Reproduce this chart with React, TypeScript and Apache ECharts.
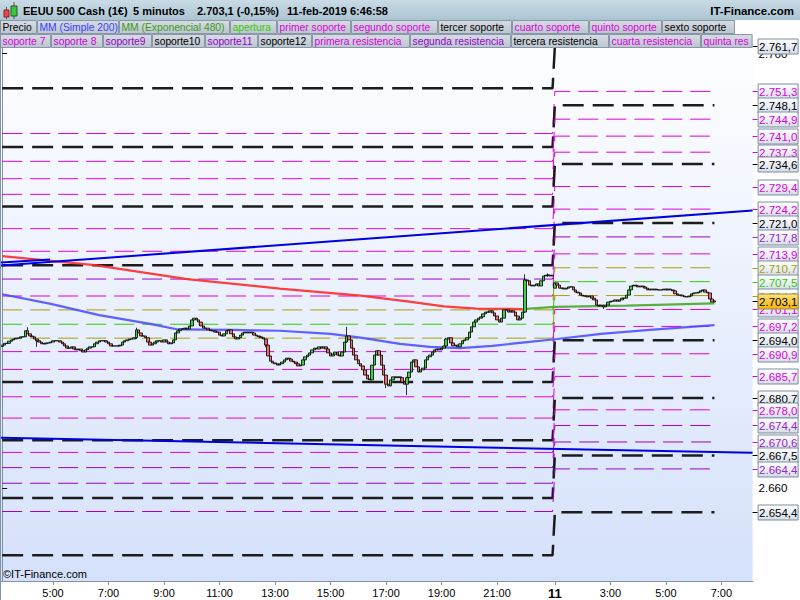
import React, { useEffect, useRef } from "react";
import * as echarts from "echarts";

// ---------------- data ----------------
// Friday 03:10 .. 23:00 (239 bars), Monday 11 01:00 .. 08:05 (86 slots, bars until 06:45)
const FRIDAY_BARS = 239;
const MONDAY_SLOTS = 86;
const fridayTicks = ["5:00", "7:00", "9:00", "11:00", "13:00", "15:00", "17:00", "19:00", "21:00"];
const mondayTicks = ["3:00", "5:00", "7:00"];
const mondayFirst = "1:00";
const dayLabel = "11";

const firstOpen = 2692.6;
const mondayOpen = 2706.0;
const closes = [
  2692.9, 2693.3, 2693.3, 2693.8, 2694.1, 2694.3, 2694.5, 2694.5, 2694.8, 2694.8, // 0
  2696.2, 2695.5, 2695.0, 2694.8, 2694.3, 2693.9, 2693.6, 2693.2, 2693.2, 2693.4, // 10
  2693.4, 2693.6, 2693.9, 2693.9, 2693.9, 2693.6, 2693.2, 2692.7, 2692.2, 2692.2, // 20
  2692.5, 2692.0, 2691.8, 2692.0, 2691.6, 2691.3, 2691.8, 2692.2, 2692.5, 2692.5, // 30
  2693.2, 2693.6, 2693.9, 2693.9, 2693.9, 2693.6, 2693.2, 2692.7, 2692.7, 2692.7, // 40
  2692.7, 2692.9, 2693.6, 2693.9, 2694.1, 2694.3, 2694.3, 2694.6, 2696.4, 2695.7, // 50
  2695.0, 2695.0, 2694.6, 2693.6, 2692.9, 2693.2, 2693.6, 2693.9, 2693.9, 2693.6, // 60
  2694.1, 2693.6, 2693.2, 2693.4, 2694.1, 2695.7, 2696.2, 2696.6, 2696.6, 2696.8, // 70
  2696.6, 2697.3, 2698.7, 2699.1, 2698.7, 2698.2, 2697.3, 2696.8, 2696.8, 2696.4, // 80
  2696.2, 2696.2, 2695.9, 2695.9, 2695.2, 2695.0, 2695.5, 2696.2, 2696.4, 2695.5, // 90
  2694.8, 2694.3, 2694.6, 2695.2, 2695.7, 2695.9, 2695.7, 2695.9, 2695.7, 2695.2, // 100
  2695.0, 2694.8, 2694.6, 2694.3, 2692.9, 2690.4, 2689.2, 2688.8, 2688.6, 2688.3, // 110
  2688.6, 2689.0, 2689.5, 2689.9, 2689.7, 2689.2, 2689.0, 2688.6, 2688.1, 2688.3, // 120
  2689.5, 2690.2, 2690.6, 2691.1, 2691.8, 2692.2, 2692.0, 2692.5, 2692.2, 2692.5, // 130
  2692.0, 2691.1, 2690.4, 2690.8, 2691.3, 2690.6, 2690.4, 2691.3, 2693.6, 2695.0, // 140
  2694.1, 2692.2, 2690.6, 2689.5, 2688.6, 2688.1, 2687.2, 2686.0, 2685.1, 2684.9, // 150
  2688.3, 2690.6, 2691.6, 2690.6, 2688.3, 2686.0, 2683.9, 2683.5, 2684.9, 2685.6, // 160
  2685.4, 2685.6, 2685.4, 2684.4, 2683.9, 2685.4, 2686.7, 2689.0, 2689.5, 2687.9, // 170
  2686.7, 2687.2, 2687.6, 2689.5, 2690.2, 2690.6, 2691.3, 2691.8, 2692.0, 2691.8, // 180
  2692.2, 2692.7, 2694.3, 2694.6, 2693.4, 2692.7, 2692.9, 2692.5, 2693.2, 2693.9, // 190
  2694.1, 2694.6, 2695.9, 2697.1, 2698.2, 2698.7, 2699.1, 2699.4, 2700.1, 2700.5, // 200
  2700.5, 2700.8, 2700.3, 2699.6, 2698.7, 2698.2, 2699.1, 2701.0, 2701.0, 2700.5, // 210
  2700.8, 2700.5, 2699.6, 2698.7, 2699.1, 2700.5, 2707.9, 2707.7, 2706.7, 2706.5, // 220
  2706.7, 2707.0, 2706.5, 2707.7, 2708.8, 2709.0, 2709.0, 2708.8, 2709.0, // 230..238
  2707.2, 2706.7, 2706.0, 2706.0, 2705.8, 2706.0, 2706.3, 2706.3, 2705.6, 2705.1, 2704.9, // 239..249
  2704.4, 2704.2, 2704.2, 2704.0, 2704.2, 2703.7, 2703.3, 2702.1, 2701.9, 2702.1, // 250
  2701.7, 2702.1, 2702.8, 2703.0, 2703.0, 2703.3, 2703.0, 2703.3, 2703.7, 2703.7, // 260
  2704.4, 2705.6, 2706.5, 2706.7, 2706.5, 2706.3, 2706.5, 2706.3, 2706.0, 2705.6, // 270
  2705.8, 2705.6, 2705.8, 2705.6, 2705.6, 2705.6, 2705.8, 2705.6, 2705.8, 2705.6, // 280
  2705.4, 2704.7, 2704.4, 2704.4, 2704.2, 2704.0, 2704.0, 2704.2, 2704.7, 2704.9, // 290
  2704.9, 2705.1, 2705.4, 2705.6, 2705.1, 2704.9, 2703.5, 2702.8, 2703.1, // 300..308
];
// notable wicks: [bar, high, low]
const wicks = [
  [11, 2697.0, 2695.5], [15, 2694.3, 2692.5], [58, 2696.9, 2694.3], [114, 2694.3, 2692.4],
  [149, 2697.1, 2693.4], [166, 2686.0, 2683.0], [175, 2685.6, 2681.4], [192, 2694.6, 2692.2],
  [226, 2709.2, 2700.3], [236, 2709.4, 2708.6], [260, 2702.1, 2701.2],
];
const lastPrice = 2703.1;

// pivot levels (Friday value, Monday value)
const fridayLevels = [2752.0, 2741.6, 2738.5, 2735.2, 2731.2, 2727.6, 2724.8, 2719.7, 2714.5, 2711.3, 2708.1, 2704.2, 2701.0, 2697.7, 2694.5, 2691.4, 2687.3, 2684.4, 2681.0, 2676.1, 2671.0, 2668.2, 2664.7, 2661.1, 2657.7, 2654.6, 2644.5];
const mondayLevels = [2761.7, 2751.3, 2748.1, 2744.9, 2741.0, 2737.3, 2734.6, 2729.4, 2724.2, 2721.0, 2717.8, 2713.9, 2710.7, 2707.5, 2704.3, 2701.1, 2697.2, 2694.0, 2690.9, 2685.7, 2680.7, 2678.0, 2674.4, 2670.6, 2667.5, 2664.4, 2654.4];
const levelKinds = ["k", "m", "k", "m", "m", "m", "k", "m", "m", "k", "p", "m", "o", "g", "o", "m", "m", "k", "m", "m", "k", "m", "p", "p", "k", "p", "k"];

// moving averages [bar, value]
const sma200 = [[0, 2704.6], [21, 2702.4], [42, 2699.8], [64, 2697.8], [76, 2696.5], [99, 2696.4], [120, 2696.2], [142, 2695.5], [155, 2694.6], [172, 2693.2], [185, 2692.5], [198, 2692.2], [212, 2692.7], [227, 2693.6], [240, 2694.3], [259, 2695.5], [280, 2696.4], [308, 2697.5]];
const emaBelow = [[0, 2713.4], [40, 2711.3], [80, 2708.1], [120, 2705.9], [155, 2704.3], [176, 2702.9], [191, 2701.8], [205, 2701.3], [225, 2701.2]];
const emaAbove = [[225, 2701.2], [239, 2701.7], [270, 2702.0], [308, 2702.5]];
// trend lines [bar, value]
const trendUp = [[-0.5, 2711.2], [324.5, 2723.9]];
const trendShort = [[-0.5, 2711.9], [20.7, 2712.6]];
const trendDown = [[-0.5, 2671.6], [324.5, 2668.1]];

const axisTicksY = [2660, 2760];

const legendRow1 = ["Precio", "MM (Simple 200)", "MM (Exponencial 480)", "apertura", "primer soporte", "segundo soporte", "tercer soporte", "cuarto soporte", "quinto soporte", "sexto soporte"];
const legendRow2 = ["soporte 7", "soporte 8", "soporte9", "soporte10", "soporte11", "soporte12", "primera resistencia", "segunda resistencia", "tercera resistencia", "cuarta resistencia", "quinta resistencia"];

const titleParts = ["EEUU 500 Cash (1€)", "5 minutos", "2.703,1 (-0,15%)", "11-feb-2019 6:46:58"];
const brand = "IT-Finance.com";
const copyright = "©IT-Finance.com";

// ---------------- styles ----------------
const FONT = '"Liberation Sans", Arial, Helvetica, sans-serif';
const kindLine: Record<string, any> = {
  k: { color: "#1c1c1c", width: 2.5, type: [21, 9] },
  m: { color: "#dd00dd", width: 1, type: [20, 8] },
  p: { color: "#9900cc", width: 1, type: [20, 8] },
  o: { color: "#a8a000", width: 1, type: [20, 8] },
  g: { color: "#33cc00", width: 1, type: [20, 8] },
};
const kindText: Record<string, string> = { k: "#000000", m: "#dd00dd", p: "#9a22cc", o: "#a8a000", g: "#33cc00" };
const legendColors1 = ["#000", "#3c3cff", "#3a9a1a", "#33cc00", "#dd00dd", "#dd00dd", "#000", "#dd00dd", "#dd00dd", "#000"];
const legendColors2 = ["#dd00dd", "#cc00dd", "#9900cc", "#000", "#9900cc", "#000", "#dd00dd", "#9900cc", "#000", "#dd00dd", "#dd00dd"];
const legendEdges1 = [0, 37, 119, 230, 277, 351, 438, 512, 589, 662, 735];
const legendEdges2 = [0, 51, 103, 152, 205, 258, 312, 410, 511, 609, 701, 752.6];
const titleX = [23, 133, 197, 287];

const fmt = (v: number, d = 1) => {
  const s = v.toFixed(d);
  const [i, f] = s.split(".");
  const ii = i.replace(/\B(?=(\d{3})+(?!\d))/g, ".");
  return f ? ii + "," + f : ii;
};

function buildCategories() {
  const cats: string[] = [];
  for (let i = 0; i < FRIDAY_BARS; i++) {
    const t = 190 + i * 5;
    cats.push(`F ${Math.floor(t / 60)}:${String(t % 60).padStart(2, "0")}`);
  }
  for (let i = 0; i < MONDAY_SLOTS; i++) {
    const t = 60 + i * 5;
    cats.push(`M ${Math.floor(t / 60)}:${String(t % 60).padStart(2, "0")}`);
  }
  return cats;
}

function tickText(cat: string): string | null {
  const [d, t] = cat.split(" ");
  if (d === "F") return fridayTicks.includes(t) ? t : null;
  if (t === mondayFirst) return "{b|" + dayLabel + "}";
  return mondayTicks.includes(t) ? t : null;
}

function buildOption() {
  const categories = buildCategories();
  const nSlots = categories.length;
  const candleData = closes.map((c, i) => {
    const o = i === 0 ? firstOpen : i === FRIDAY_BARS ? mondayOpen : closes[i - 1];
    let lo = Math.min(o, c);
    let hi = Math.max(o, c);
    const w = wicks.find((x) => x[0] === i);
    if (w) {
      hi = Math.max(hi, w[1]);
      lo = Math.min(lo, w[2]);
    }
    return [o, c, lo, hi];
  });
  const lastBar = closes.length - 1;

  const series: any[] = [];
  fridayLevels.forEach((fv, k) => {
    const st = kindLine[levelKinds[k]];
    series.push({
      type: "line",
      xAxisIndex: 1,
      symbol: "none",
      silent: true,
      z: 1,
      data: [[0, fv], [FRIDAY_BARS - 1, fv], [FRIDAY_BARS, mondayLevels[k]], [lastBar, mondayLevels[k]]],
      lineStyle: { color: st.color, width: st.width, type: st.type },
    });
  });
  const lineSeries = (data: number[][], color: string, width: number, opacity = 1, z = 2) => ({
    type: "line",
    xAxisIndex: 1,
    symbol: "none",
    silent: true,
    z,
    data,
    lineStyle: { color, width, opacity },
  });
  series.push(lineSeries(sma200, "#4646ff", 2.2, 0.85));
  series.push(lineSeries(emaBelow, "#ff2a2a", 2.2, 0.9));
  series.push(lineSeries(emaAbove, "#4aa82a", 2.2, 0.9));
  series.push(lineSeries(trendUp, "#0000e0", 2));
  series.push(lineSeries(trendShort, "#0000e0", 2));
  series.push(lineSeries(trendDown, "#0000e0", 2));
  series.push({
    type: "candlestick",
    xAxisIndex: 0,
    barWidth: 3,
    silent: true,
    z: 3,
    data: candleData,
    itemStyle: { color: "#44cc44", color0: "#f06a6a", borderColor: "#000", borderColor0: "#000", borderWidth: 0.8 },
  });

  // right-hand value boxes
  const labelValues = [...mondayLevels, lastPrice];
  const labelKinds = [...levelKinds, "cur"];
  const boxFill = new echarts.graphic.LinearGradient(0, 0, 0, 1, [
    { offset: 0, color: "#ffffff" },
    { offset: 1, color: "#d6dde9" },
  ]);
  const curFill = new echarts.graphic.LinearGradient(0, 0, 0, 1, [
    { offset: 0, color: "#ffe27a" },
    { offset: 1, color: "#f2b400" },
  ]);
  series.push({
    type: "custom",
    xAxisIndex: 1,
    yAxisIndex: 0,
    clip: false,
    silent: true,
    z: 20,
    data: labelValues.map((v) => [nSlots - 0.5, v]),
    renderItem: (params: any, api: any) => {
      const i = params.dataIndex;
      const kind = labelKinds[i];
      const v = api.value(1);
      const y = Math.round(api.coord([0, v])[1]) + 0.5;
      const cs = params.coordSys;
      const x0 = cs.x + cs.width;
      const cur = kind === "cur";
      const col = cur ? "#000" : kindText[kind];
      return {
        type: "group",
        children: [
          { type: "line", shape: { x1: x0, y1: y, x2: x0 + 5, y2: y }, style: { stroke: col, lineWidth: 1 } },
          {
            type: "rect",
            shape: { x: x0 + 5.5, y: y - 7.5, width: 40, height: 15 },
            style: { fill: cur ? curFill : boxFill, stroke: cur ? "#9a8a50" : "#7d8d9d", lineWidth: 1 },
          },
          {
            type: "text",
            style: { x: x0 + 6.5, y: y + 0.5, text: fmt(v), fill: col, font: `11.5px ${FONT}`, verticalAlign: "middle", align: "left" },
          },
        ],
      };
    },
  });

  // header + legend graphics
  const graphic: any[] = [];
  graphic.push({
    type: "rect",
    z: 100,
    shape: { x: 0, y: 0, width: 800, height: 20 },
    style: {
      fill: new echarts.graphic.LinearGradient(0, 0, 0, 1, [
        { offset: 0, color: "#c9dbe6" },
        { offset: 1, color: "#abc4d2" },
      ]),
    },
  });
  // small candle icon
  graphic.push({ type: "line", z: 101, shape: { x1: 6.5, y1: 7, x2: 6.5, y2: 19 }, style: { stroke: "#555", lineWidth: 1 } });
  graphic.push({ type: "rect", z: 102, shape: { x: 4, y: 10, width: 5, height: 7 }, style: { fill: "#e84848", stroke: "#902020", lineWidth: 1 } });
  graphic.push({ type: "line", z: 101, shape: { x1: 14, y1: 2, x2: 14, y2: 19 }, style: { stroke: "#555", lineWidth: 1 } });
  graphic.push({ type: "rect", z: 102, shape: { x: 11, y: 6, width: 6, height: 10 }, style: { fill: "#3cc43c", stroke: "#206020", lineWidth: 1 } });
  titleParts.forEach((t, i) => {
    graphic.push({ type: "text", z: 103, style: { x: titleX[i], y: 10.5, text: t, fill: "#000", font: `bold 11px ${FONT}`, verticalAlign: "middle" } });
  });
  graphic.push({ type: "text", z: 103, style: { x: 794, y: 10.5, text: brand, fill: "#000", font: `bold 11.5px ${FONT}`, verticalAlign: "middle", align: "right" } });

  const itemFill = () =>
    new echarts.graphic.LinearGradient(0, 0, 0, 1, [
      { offset: 0, color: "#d6dce2" },
      { offset: 1, color: "#bcc6cf" },
    ]);
  const addRow = (names: string[], colors: string[], edges: number[], y: number) => {
    names.forEach((n, i) => {
      const x0 = edges[i];
      const x1 = edges[i + 1];
      const last = i === names.length - 1 && edges[i + 1] > 750;
      graphic.push({
        type: "rect",
        z: 100,
        shape: { x: x0 + 0.5, y: y + 0.5, width: x1 - x0 - 1, height: 13 },
        style: { fill: itemFill(), stroke: "#8898a8", lineWidth: 1 },
      });
      const style: any = {
        x: x0 + 2.5,
        y: y + 7.5,
        text: n,
        fill: colors[i],
        font: `10.3px ${FONT}`,
        verticalAlign: "middle",
      };
      if (last) {
        style.width = x1 - x0 - 3;
        style.overflow = "truncate";
        style.ellipsis = "";
      }
      graphic.push({ type: "text", z: 101, style });
    });
  };
  addRow(legendRow1, legendColors1, legendEdges1, 20);
  addRow(legendRow2, legendColors2, legendEdges2, 34);
  graphic.push({ type: "text", z: 101, style: { x: 3, y: 574, text: copyright, fill: "#000", font: `11px ${FONT}`, verticalAlign: "middle" } });
  graphic.push({ type: "line", z: 101, shape: { x1: 0.5, y1: 20, x2: 0.5, y2: 600 }, style: { stroke: "#8192a3", lineWidth: 1 } });

  const intervalFn = (_idx: number, value: string) => tickText(value) !== null;

  return {
    animation: false,
    backgroundColor: "#ffffff",
    textStyle: { fontFamily: FONT },
    grid: {
      left: 1,
      top: 21,
      width: 751.6,
      height: 560,
      show: true,
      borderWidth: 0,
      outerBoundsMode: "none",
      backgroundColor: new echarts.graphic.LinearGradient(0, 0, 0, 1, [
        { offset: 0, color: "#ffffff" },
        { offset: 1, color: "#d5e1fb" },
      ]),
    },
    xAxis: [
      {
        type: "category",
        data: categories,
        boundaryGap: true,
        axisLine: { lineStyle: { color: "#8192a3", width: 1 } },
        axisTick: { show: true, alignWithLabel: true, interval: intervalFn, length: 4, lineStyle: { color: "#8192a3" } },
        axisLabel: {
          interval: intervalFn,
          formatter: (v: string) => tickText(v) || "",
          color: "#000",
          fontSize: 11,
          fontFamily: FONT,
          margin: 6,
          rich: { b: { fontWeight: "bold", fontSize: 13, fontFamily: FONT, color: "#000" } },
        },
        splitLine: { show: false },
      },
      { type: "value", min: -0.5, max: nSlots - 0.5, show: false },
    ],
    yAxis: {
      type: "value",
      position: "right",
      min: 2638.6,
      max: 2767.5,
      axisLine: { show: true, lineStyle: { color: "#8192a3" } },
      axisTick: { show: true, customValues: axisTicksY, length: 5, lineStyle: { color: "#000" } },
      axisLabel: { show: true, customValues: axisTicksY, formatter: (v: number) => fmt(v, 0), color: "#000", fontSize: 11.5, fontFamily: FONT, margin: 6 },
      splitLine: { show: false },
    },
    series,
    graphic,
  };
}

export default function App() {
  const ref = useRef<HTMLDivElement>(null);
  useEffect(() => {
    if (!ref.current) return;
    const chart = echarts.init(ref.current, undefined, { renderer: "svg" });
    chart.setOption(buildOption() as any);
    return () => chart.dispose();
  }, []);
  return (
    <div
      ref={ref}
      style={{ position: "fixed", left: 0, top: 0, width: 800, height: 600, background: "#fff" }}
    />
  );
}
